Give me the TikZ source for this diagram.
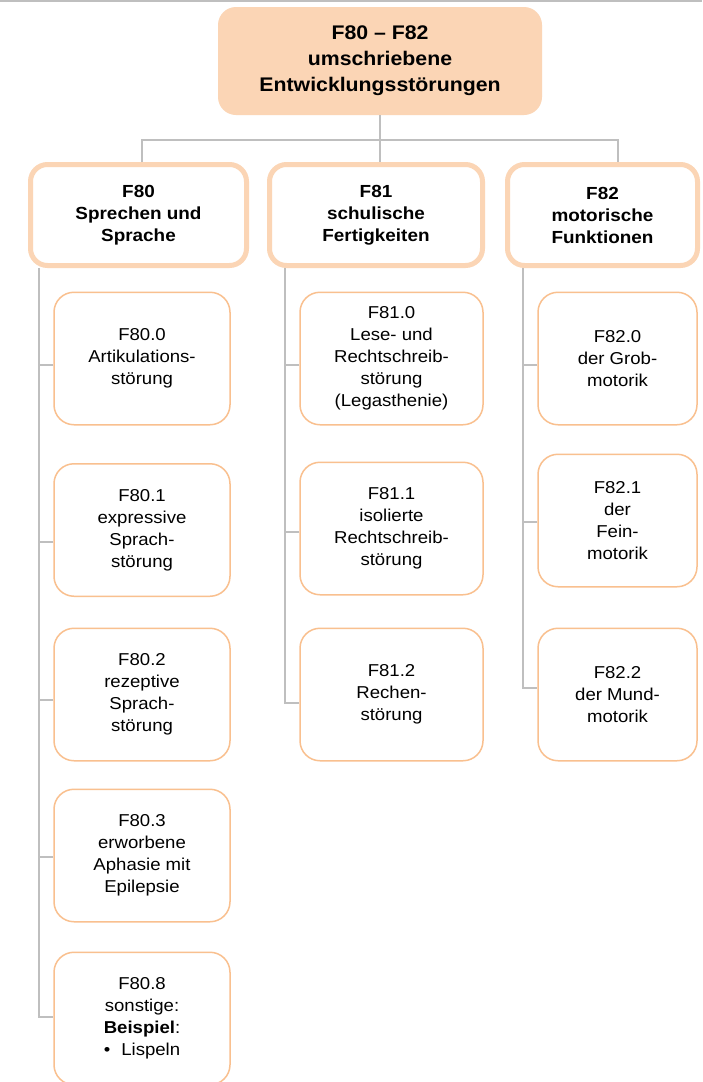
\documentclass[tikz,border=0pt]{standalone}
\usepackage{fontspec}
\setmainfont{Liberation Sans}[FakeStretch=1.08]
\definecolor{peach}{HTML}{FBD5B5}
\definecolor{orangeline}{HTML}{F9C08F}
\definecolor{conn}{HTML}{BFBFBF}
\tikzset{
  rootbox/.style={fill=peach, rounded corners=18pt, minimum width=324pt, minimum height=108pt, inner sep=0pt, align=center, font=\fontsize{19.7}{26}\selectfont\bfseries},
  headbox/.style={draw=peach, line width=5pt, fill=white, rounded corners=17pt, minimum height=101pt, inner sep=0pt, align=center, font=\fontsize{17.5}{22}\selectfont\bfseries},
  childbox/.style={draw=orangeline, line width=1.5pt, fill=white, rounded corners=20pt, minimum height=132.5pt, inner sep=0pt, align=center, font=\fontsize{17.2}{22}\selectfont},
  link/.style={draw=conn, line width=2pt},
}
\begin{document}
\begin{tikzpicture}[x=1pt,y=1pt]
\useasboundingbox (0,0) rectangle (702,-1082);
\fill[white] (0,0) rectangle (702,-1082);
\draw[link, line width=1.5pt] (0,-1) -- (702,-1);

% root
\node[rootbox] (root) at (380,-61) {F80 -- F82\\umschriebene\\Entwicklungsstörungen};

% headers
\node[headbox, minimum width=216pt] (h80) at (138.5,-215) {F80\\Sprechen und\\Sprache};
\node[headbox, minimum width=213pt] (h81) at (376,-215) {F81\\schulische\\Fertigkeiten};
\node[headbox, minimum width=190pt] (h82) at (602.5,-215) {F82\\motorische\\Funktionen};

% column 1
\node[childbox, minimum width=176pt] (c800) at (142,-358.5) {F80.0\\Artikulations-\\störung};
\node[childbox, minimum width=176pt] (c801) at (142,-530) {F80.1\\expressive\\Sprach-\\störung};
\node[childbox, minimum width=176pt] (c802) at (142,-694.5) {F80.2\\rezeptive\\Sprach-\\störung};
\node[childbox, minimum width=176pt] (c803) at (142,-855.5) {F80.3\\erworbene\\Aphasie mit\\Epilepsie};
\node[childbox, minimum width=176pt] (c808) at (142,-1018.5) {F80.8\\sonstige:\\\textbf{Beispiel}:\\•\hspace{11pt}Lispeln};

% column 2
\node[childbox, minimum width=183pt] (c810) at (391.5,-358.5) {F81.0\\Lese- und\\Rechtschreib-\\störung\\(Legasthenie)};
\node[childbox, minimum width=183pt] (c811) at (391.5,-528.5) {F81.1\\isolierte\\Rechtschreib-\\störung};
\node[childbox, minimum width=183pt] (c812) at (391.5,-694.5) {F81.2\\Rechen-\\störung};

% column 3
\node[childbox, minimum width=159pt] (c820) at (617.5,-358.5) {F82.0\\der Grob-\\motorik};
\node[childbox, minimum width=159pt] (c821) at (617.5,-520.5) {F82.1\\der\\Fein-\\motorik};
\node[childbox, minimum width=159pt] (c822) at (617.5,-694.5) {F82.2\\der Mund-\\motorik};

% bus from root to headers
\coordinate (b1) at (142,-140);
\coordinate (b2) at (380,-140);
\coordinate (b3) at (618,-140);
\draw[link] (root.south) -- (b2);
\draw[link] (h80.north -| b1) -- (b1) -- (b3) -- (h82.north -| b3);
\draw[link] (b2) -- (h81.north -| b2);

% spines
\coordinate (s1) at (39,0);
\coordinate (s2) at (285,0);
\coordinate (s3) at (523,0);
\draw[link] (h80.south -| s1) |- ([yshift=1.5pt]c808.west);
\foreach \c/\d in {c800/6.5,c801/12,c802/5.5,c803/1.5}
  \draw[link] ([yshift=-\d pt]\c.west) -- ([yshift=-\d pt]\c.west -| s1);
\draw[link] (h81.south -| s2) |- ([yshift=-8pt]c812.west);
\foreach \c/\d in {c810/6.5,c811/3.5}
  \draw[link] ([yshift=-\d pt]\c.west) -- ([yshift=-\d pt]\c.west -| s2);
\draw[link] (h82.south -| s3) |- ([yshift=6.5pt]c822.west);
\foreach \c/\d in {c820/6.5,c821/1.5}
  \draw[link] ([yshift=-\d pt]\c.west) -- ([yshift=-\d pt]\c.west -| s3);
\end{tikzpicture}
\end{document}
